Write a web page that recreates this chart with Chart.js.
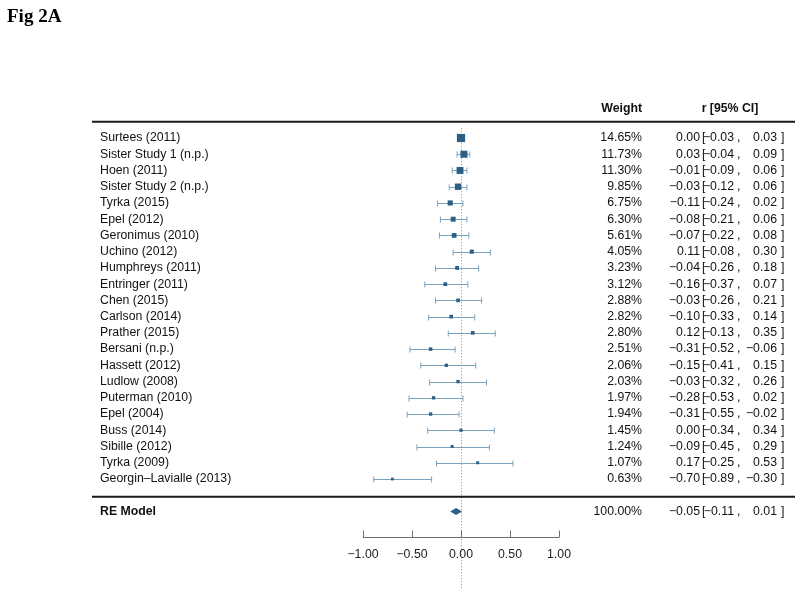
<!DOCTYPE html>
<html>
<head>
<meta charset="utf-8">
<script src="https://cdn.jsdelivr.net/npm/chart.js@4/dist/chart.umd.min.js"></script>
<style>
  html, body { margin: 0; padding: 0; background: #fff; }
  #wrap { width: 800px; height: 602px; position: relative; }
</style>
</head>
<body>
<div id="wrap"><canvas id="c" width="800" height="602"></canvas></div>
<script>
const studies = ["Surtees (2011)", "Sister Study 1 (n.p.)", "Hoen (2011)", "Sister Study 2 (n.p.)",
  "Tyrka (2015)", "Epel (2012)", "Geronimus (2010)", "Uchino (2012)", "Humphreys (2011)",
  "Entringer (2011)", "Chen (2015)", "Carlson (2014)", "Prather (2015)", "Bersani (n.p.)",
  "Hassett (2012)", "Ludlow (2008)", "Puterman (2010)", "Epel (2004)", "Buss (2014)",
  "Sibille (2012)", "Tyrka (2009)", "Georgin\u2013Lavialle (2013)"];
const estimates = [0.00, 0.03, -0.01, -0.03, -0.11, -0.08, -0.07, 0.11, -0.04, -0.16, -0.03,
  -0.10, 0.12, -0.31, -0.15, -0.03, -0.28, -0.31, 0.00, -0.09, 0.17, -0.70];
const lowers = [-0.03, -0.04, -0.09, -0.12, -0.24, -0.21, -0.22, -0.08, -0.26, -0.37, -0.26,
  -0.33, -0.13, -0.52, -0.41, -0.32, -0.53, -0.55, -0.34, -0.45, -0.25, -0.89];
const uppers = [0.03, 0.09, 0.06, 0.06, 0.02, 0.06, 0.08, 0.30, 0.18, 0.07, 0.21,
  0.14, 0.35, -0.06, 0.15, 0.26, 0.02, -0.02, 0.34, 0.29, 0.53, -0.30];
const weights = [14.65, 11.73, 11.30, 9.85, 6.75, 6.30, 5.61, 4.05, 3.23, 3.12, 2.88,
  2.82, 2.80, 2.51, 2.06, 2.03, 1.97, 1.94, 1.45, 1.24, 1.07, 0.63];
const reLabel = "RE Model";
const reEstimate = -0.05, reLower = -0.11, reUpper = 0.01, reWeight = 100.00;
const tickValues = [-1, -0.5, 0, 0.5, 1];

const k = studies.length;
const rows = studies.map((s, i) => k - i);
const RE_ROW = -1;

const BLUE = '#2b5f86';
const CI_COL = '#7aa2bd';
const FONT = '"Liberation Sans", Arial, Helvetica, sans-serif';
const FS = 12.3;

function fmt(v) { return v.toFixed(2).replace('-', '\u2212'); }
function fmtW(v) { return v.toFixed(2) + '%'; }

const wMin = Math.min(...weights), wMax = Math.max(...weights);
function side(w) { return 2.8 + 5.4 * (w - wMin) / (wMax - wMin); }

const forestPlugin = {
  id: 'forest',
  beforeDatasetsDraw(chart) {
    const ctx = chart.ctx, xs = chart.scales.x, ys = chart.scales.y;
    ctx.save();
    ctx.strokeStyle = '#8a8a8a';
    ctx.lineWidth = 1;
    ctx.setLineDash([1, 2]);
    const x0 = Math.round(xs.getPixelForValue(0)) + 0.5;
    ctx.beginPath();
    ctx.moveTo(x0, ys.getPixelForValue(22.6));
    ctx.lineTo(x0, ys.getPixelForValue(-5.85));
    ctx.stroke();
    ctx.setLineDash([]);
    ctx.strokeStyle = CI_COL;
    ctx.lineWidth = 1;
    for (let i = 0; i < k; i++) {
      const y = Math.round(ys.getPixelForValue(rows[i])) + 0.5;
      const xl = xs.getPixelForValue(lowers[i]);
      const xu = xs.getPixelForValue(uppers[i]);
      ctx.beginPath();
      ctx.moveTo(xl, y); ctx.lineTo(xu, y);
      ctx.moveTo(xl, y - 3); ctx.lineTo(xl, y + 3);
      ctx.moveTo(xu, y - 3); ctx.lineTo(xu, y + 3);
      ctx.stroke();
    }
    ctx.restore();
  },
  afterDraw(chart) {
    const ctx = chart.ctx, xs = chart.scales.x, ys = chart.scales.y;
    ctx.save();
    const yR = ys.getPixelForValue(RE_ROW);
    const hh = 3.6;
    ctx.fillStyle = BLUE;
    ctx.beginPath();
    ctx.moveTo(xs.getPixelForValue(reLower), yR);
    ctx.lineTo(xs.getPixelForValue(reEstimate), yR - hh);
    ctx.lineTo(xs.getPixelForValue(reUpper), yR);
    ctx.lineTo(xs.getPixelForValue(reEstimate), yR + hh);
    ctx.closePath();
    ctx.fill();

    ctx.strokeStyle = '#1a1a1a';
    ctx.lineWidth = 2;
    ctx.beginPath();
    const yTop = ys.getPixelForValue(23);
    const ySep = ys.getPixelForValue(-0.1);
    ctx.moveTo(92, yTop); ctx.lineTo(795, yTop);
    ctx.moveTo(92, ySep); ctx.lineTo(795, ySep);
    ctx.stroke();

    const yAx = Math.round(ys.getPixelForValue(-2.57)) + 0.5;
    ctx.strokeStyle = '#6e6e6e';
    ctx.lineWidth = 1;
    ctx.beginPath();
    ctx.moveTo(xs.getPixelForValue(tickValues[0]), yAx);
    ctx.lineTo(xs.getPixelForValue(tickValues[tickValues.length - 1]), yAx);
    tickValues.forEach(t => {
      const px = Math.round(xs.getPixelForValue(t)) + 0.5;
      ctx.moveTo(px, yAx); ctx.lineTo(px, yAx - 7);
    });
    ctx.stroke();
    ctx.fillStyle = '#222';
    ctx.font = FS + 'px ' + FONT;
    ctx.textAlign = 'center';
    ctx.textBaseline = 'middle';
    tickValues.forEach(t => {
      ctx.fillText(fmt(t), xs.getPixelForValue(t), ys.getPixelForValue(-3.68));
    });

    ctx.fillStyle = '#000';
    ctx.font = 'bold 19px "Liberation Serif", "Times New Roman", serif';
    ctx.textAlign = 'left';
    ctx.textBaseline = 'alphabetic';
    ctx.fillText('Fig 2A', 7, 22);

    ctx.fillStyle = '#111';
    ctx.font = 'bold ' + FS + 'px ' + FONT;
    ctx.textBaseline = 'middle';
    const yH = ys.getPixelForValue(23.8);
    ctx.textAlign = 'right';
    ctx.fillText('Weight', 642, yH);
    ctx.textAlign = 'center';
    ctx.fillText('r [95% CI]', 730, yH);

    function rowText(label, w, est, lo, up, y, boldLabel) {
      ctx.font = (boldLabel ? 'bold ' : '') + FS + 'px ' + FONT;
      ctx.textAlign = 'left';
      ctx.fillText(label, 100, y);
      ctx.font = FS + 'px ' + FONT;
      ctx.textAlign = 'right';
      ctx.fillText(fmtW(w), 642, y);
      ctx.fillText(fmt(est), 700, y);
      ctx.fillText(fmt(lo), 734, y);
      ctx.fillText(fmt(up), 777, y);
      ctx.textAlign = 'left';
      ctx.fillText('[', 702, y);
      ctx.fillText(',', 737, y);
      ctx.fillText(']', 781, y);
    }
    ctx.fillStyle = '#111';
    for (let i = 0; i < k; i++) {
      rowText(studies[i], weights[i], estimates[i], lowers[i], uppers[i], ys.getPixelForValue(rows[i]), false);
    }
    rowText(reLabel, reWeight, reEstimate, reLower, reUpper, yR, true);
    ctx.restore();
  }
};

new Chart(document.getElementById('c'), {
  type: 'scatter',
  data: {
    datasets: [{
      label: 'Studies',
      data: estimates.map((e, i) => ({ x: e, y: rows[i] })),
      pointStyle: 'rect',
      pointRadius: weights.map(w => side(w) / (2 * Math.SQRT1_2)),
      pointHoverRadius: weights.map(w => side(w) / (2 * Math.SQRT1_2)),
      pointBorderWidth: 0,
      backgroundColor: BLUE,
      borderColor: BLUE,
      clip: false
    }]
  },
  options: {
    responsive: false,
    animation: false,
    devicePixelRatio: 1,
    layout: { padding: { left: 363, right: 241, top: 89.29, bottom: 9.33 } },
    plugins: { legend: { display: false }, tooltip: { enabled: false } },
    scales: {
      x: { type: 'linear', min: -1, max: 1, display: false },
      y: { type: 'linear', min: -6, max: 25, display: false }
    }
  },
  plugins: [forestPlugin]
});
</script>
</body>
</html>
